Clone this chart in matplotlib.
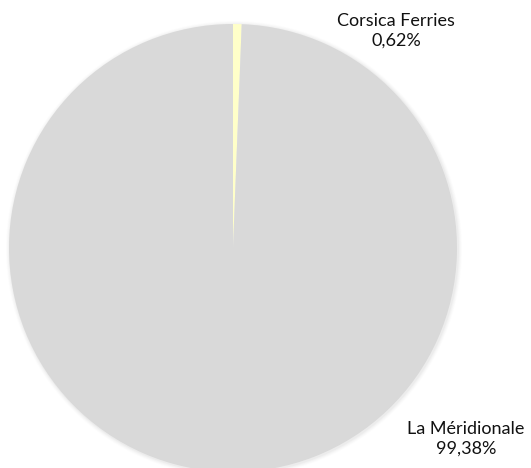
import matplotlib.pyplot as plt
from matplotlib.patches import Circle

labels = ['Corsica Ferries', 'La Méridionale']
shares = [0.62, 99.38]
colors = ['#ffffc9', '#d9d9d9']

fig = plt.figure(figsize=(5.31, 4.68), dpi=100)
ax = fig.add_axes([0, 0, 1, 1])

cx, cy, r = 233, 220, 224

# soft shadow
for i, a in enumerate([0.05, 0.04, 0.03, 0.02]):
    ax.add_patch(Circle((cx + 1, cy - 1), r + 1 + i, color='#808080', alpha=a, lw=0, zorder=0))

ax.pie(shares, colors=colors, startangle=90, counterclock=False,
       radius=r, center=(cx, cy), frame=True,
       wedgeprops=dict(linewidth=0, zorder=1))
ax.set_xlim(0, 531)
ax.set_ylim(0, 468)
ax.set_aspect('equal')
ax.axis('off')

font = dict(family='Lato', fontsize=13, color='#111111', ha='center', va='center',
            linespacing=1.3)
ax.text(396, 468 - 31, f"{labels[0]}\n{shares[0]:.2f}%".replace('.', ','), **font)
ax.text(466, 468 - 439, f"{labels[1]}\n{shares[1]:.2f}%".replace('.', ','), **font)

fig.savefig('out.png', dpi=100)
